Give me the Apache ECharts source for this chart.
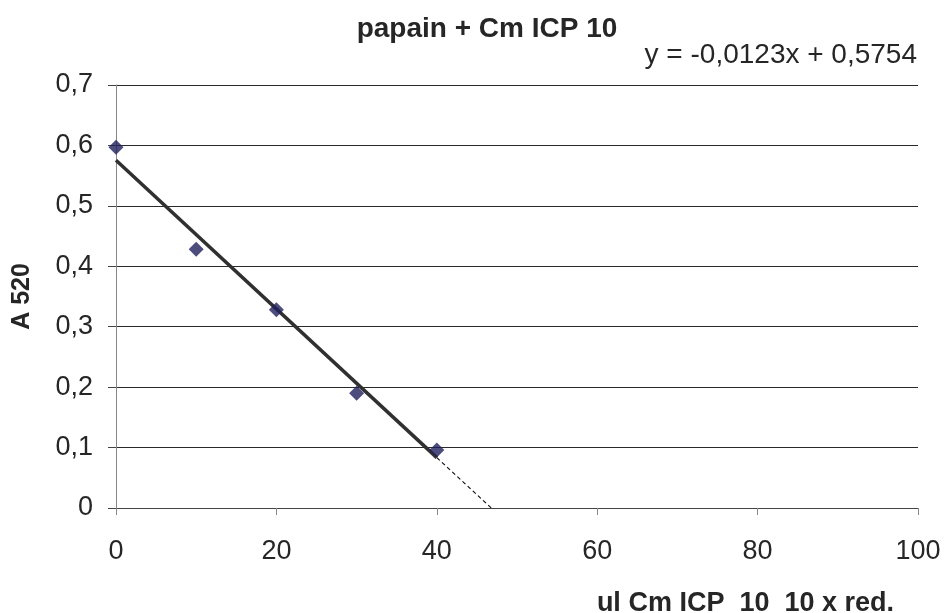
<!DOCTYPE html>
<html style="height: 100%">
<head>
  <meta charset="utf-8">
</head>
<body style="height: 100%; margin: 0; background: #fff">
  <div id="container" style="width: 945px; height: 613px"></div>
  <script src="https://cdn.jsdelivr.net/npm/echarts@6/dist/echarts.min.js"></script>
  <script>
    // measured points
    const xValues = [0, 10, 20, 30, 40];
    const yValues = [0.597, 0.428, 0.328, 0.19, 0.096];
    // trend line ends (solid part, then dashed extension)
    const trendX = [0, 40];
    const trendY = [0.5754, 0.0834];
    const extX = [40, 46.8];
    const extY = [0.0834, 0];

    const pairs = (xs, ys) => xs.map((x, i) => [x, ys[i]]);
    const font = 'Liberation Sans, Arial, sans-serif';

    const chart = echarts.init(document.getElementById('container'), null, { renderer: 'canvas' });
    const option = {
      backgroundColor: '#fff',
      animation: false,
      title: [
        {
          text: 'papain + Cm ICP 10',
          left: 482, top: 10, textAlign: 'center',
          textStyle: { fontFamily: font, fontSize: 28, fontWeight: 'bold', color: '#262626' }
        },
        {
          text: 'y = -0,0123x + 0,5754',
          right: 23, top: 36,
          textStyle: { fontFamily: font, fontSize: 28, fontWeight: 'normal', color: '#262626' }
        },
        {
          text: 'ul Cm ICP  10  10 x red.',
          right: 46, top: 585,
          textStyle: { fontFamily: font, fontSize: 27, fontWeight: 'bold', color: '#262626' }
        }
      ],
      grid: { left: 116, right: 27, top: 85, bottom: 105, outerBoundsMode: 'none', containLabel: false },
      xAxis: {
        type: 'value', min: 0, max: 100, interval: 20,
        axisLine: { lineStyle: { color: '#444', width: 1 } },
        axisTick: { show: true, length: 7, lineStyle: { color: '#888' } },
        axisLabel: { fontFamily: font, fontSize: 27, color: '#262626', margin: 30 },
        splitLine: { show: false }
      },
      yAxis: {
        type: 'value', min: 0, max: 0.7, interval: 0.1,
        name: 'A 520',
        nameLocation: 'middle', nameGap: 81, nameRotate: 90,
        nameTextStyle: { fontFamily: font, fontSize: 25, fontWeight: 'bold', color: '#262626' },
        axisLine: { show: true, lineStyle: { color: '#888', width: 1 } },
        axisTick: { show: true, inside: false, length: 8, lineStyle: { color: '#444' } },
        axisLabel: {
          fontFamily: font, fontSize: 27, color: '#262626', margin: 23,
          formatter: v => String(Math.round(v * 10) / 10).replace('.', ',')
        },
        splitLine: { show: true, lineStyle: { color: '#2a2a2a', width: 1 } }
      },
      series: [
        {
          type: 'line',
          data: pairs(trendX, trendY),
          symbol: 'none',
          lineStyle: { color: '#303030', width: 3.5 },
          z: 2
        },
        {
          type: 'line',
          data: pairs(extX, extY),
          symbol: 'none',
          lineStyle: { color: '#111', width: 1.2, type: [4, 3] },
          z: 2
        },
        {
          type: 'scatter',
          data: pairs(xValues, yValues),
          symbol: 'diamond',
          symbolSize: [15, 15],
          itemStyle: { color: '#1f1f5c' },
          z: 3
        }
      ]
    };
    chart.setOption(option);
  </script>
</body>
</html>
